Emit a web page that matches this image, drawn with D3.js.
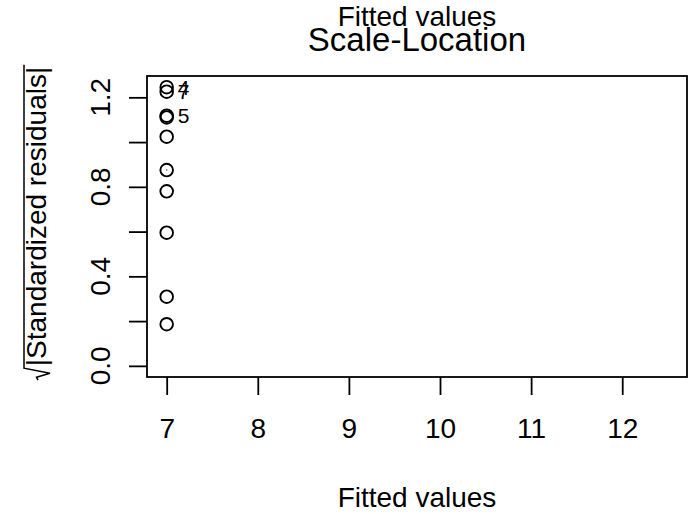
<!DOCTYPE html>
<html>
<head>
<meta charset="utf-8">
<script src="https://cdn.jsdelivr.net/npm/d3@7"></script>
<style>
  html, body { margin: 0; padding: 0; background: #fff; }
  svg { display: block; }
  text { font-family: "Liberation Sans", Arial, Helvetica, sans-serif; fill: #000; }
</style>
</head>
<body>
<svg id="chart" width="696" height="514"></svg>
<script>
// Fitted values (all observations share the same fit) and sqrt(|standardized residuals|)
const fitted = [7, 7, 7, 7, 7, 7, 7, 7, 7, 7];
const sqrtStdResid = [1.2455, 1.2254, 1.118, 1.110, 1.024, 0.875, 0.780, 0.595, 0.309, 0.186];
const obsIds = ["4", "7", "5", "", "", "", "", "", "", ""];

// Smoother through the points (collapses to one location)
const smoothX = [7, 7];
const smoothY = [0.875, 0.875];

// Axis ticks
const xTicks = [7, 8, 9, 10, 11, 12];
const yTicks = [0, 0.2, 0.4, 0.6, 0.8, 1.0, 1.2];
const yTickLabels = ["0.0", "", "0.4", "", "0.8", "", "1.2"];

const titleText = "Scale-Location";
const xLabel = "Fitted values";
const yLabel = "|Standardized residuals|";

const svg = d3.select("#chart");
const box = { left: 147, right: 687, top: 76, bottom: 377 };

const yMax = d3.max(sqrtStdResid);
const yPad = yMax * 0.04;
const x = d3.scaleLinear().domain([6.784, 12.711]).range([box.left, box.right]);
const y = d3.scaleLinear().domain([-yPad, yMax + yPad]).range([box.bottom, box.top]);

const cx = (box.left + box.right) / 2;

// Plot frame
svg.append("rect")
  .attr("x", box.left).attr("y", box.top)
  .attr("width", box.right - box.left).attr("height", box.bottom - box.top)
  .attr("fill", "none").attr("stroke", "#000").attr("stroke-width", 1.8);

// X axis
const xAxis = svg.append("g")
  .attr("transform", `translate(0,${box.bottom})`)
  .call(d3.axisBottom(x).tickValues(xTicks).tickSize(18).tickPadding(23).tickFormat(d3.format("d")));
xAxis.select(".domain").remove();
xAxis.selectAll(".tick line").attr("stroke", "#000").attr("stroke-width", 1.8);
xAxis.selectAll(".tick text").style("font-size", "28px").attr("fill", "#000");

// Y axis (labels drawn parallel to the axis)
const yAxis = svg.append("g")
  .attr("transform", `translate(${box.left},0)`)
  .call(d3.axisLeft(y).tickValues(yTicks).tickSize(18).tickFormat(""));
yAxis.select(".domain").remove();
yAxis.selectAll(".tick line").attr("stroke", "#000").attr("stroke-width", 1.8);

svg.append("g").selectAll("text")
  .data(yTicks.map((v, i) => ({ v, label: yTickLabels[i] })).filter(d => d.label))
  .join("text")
  .attr("transform", d => `translate(110,${y(d.v)}) rotate(-90)`)
  .attr("text-anchor", "middle")
  .style("font-size", "28px")
  .text(d => d.label);

// Points
svg.append("g").selectAll("circle")
  .data(fitted.map((f, i) => ({ f, r: sqrtStdResid[i], id: obsIds[i] })))
  .join("circle")
  .attr("cx", d => x(d.f))
  .attr("cy", d => y(d.r))
  .attr("r", 6.3)
  .attr("fill", "none")
  .attr("stroke", "#000")
  .attr("stroke-width", 1.9);

// Smoother
const line = d3.line().x((d, i) => x(smoothX[i])).y((d, i) => y(smoothY[i]));
svg.append("path")
  .attr("d", line(smoothX))
  .attr("fill", "none")
  .attr("stroke", "#e0202a")
  .attr("stroke-width", 1.6)
  .attr("stroke-linecap", "round");

// Labels for the largest residuals
svg.append("g").selectAll("text")
  .data(fitted.map((f, i) => ({ f, r: sqrtStdResid[i], id: obsIds[i] })).filter(d => d.id))
  .join("text")
  .attr("x", d => x(d.f) + 11)
  .attr("y", d => y(d.r))
  .attr("dy", "0.36em")
  .style("font-size", "21px")
  .text(d => d.id);

// Titles
svg.append("text")
  .attr("x", cx).attr("y", 26)
  .attr("text-anchor", "middle")
  .style("font-size", "28px")
  .text(xLabel);

svg.append("text")
  .attr("x", cx).attr("y", 51)
  .attr("text-anchor", "middle")
  .style("font-size", "33px")
  .text(titleText);

svg.append("text")
  .attr("x", cx).attr("y", 507)
  .attr("text-anchor", "middle")
  .style("font-size", "28px")
  .text(xLabel);

// Y axis title: square root sign with a bar over |Standardized residuals|
const yTitle = svg.append("g")
  .attr("transform", `translate(46,${(box.top + box.bottom) / 2 - 3}) rotate(-90)`);
const inner = yTitle.append("text")
  .style("font-size", "28px")
  .text(yLabel);
const innerW = inner.node().getComputedTextLength();
const radW = 14;
const totalW = radW + innerW;
inner.attr("x", -totalW / 2 + radW);
const x0 = -totalW / 2;
const barY = -22;
yTitle.append("path")
  .attr("d", `M${x0},${-8} L${x0 + 3},${-9.5} L${x0 + 7},${4} L${x0 + 12},${barY} L${x0 + totalW + 2},${barY}`)
  .attr("fill", "none")
  .attr("stroke", "#000")
  .attr("stroke-width", 1.5);
</script>
</body>
</html>
